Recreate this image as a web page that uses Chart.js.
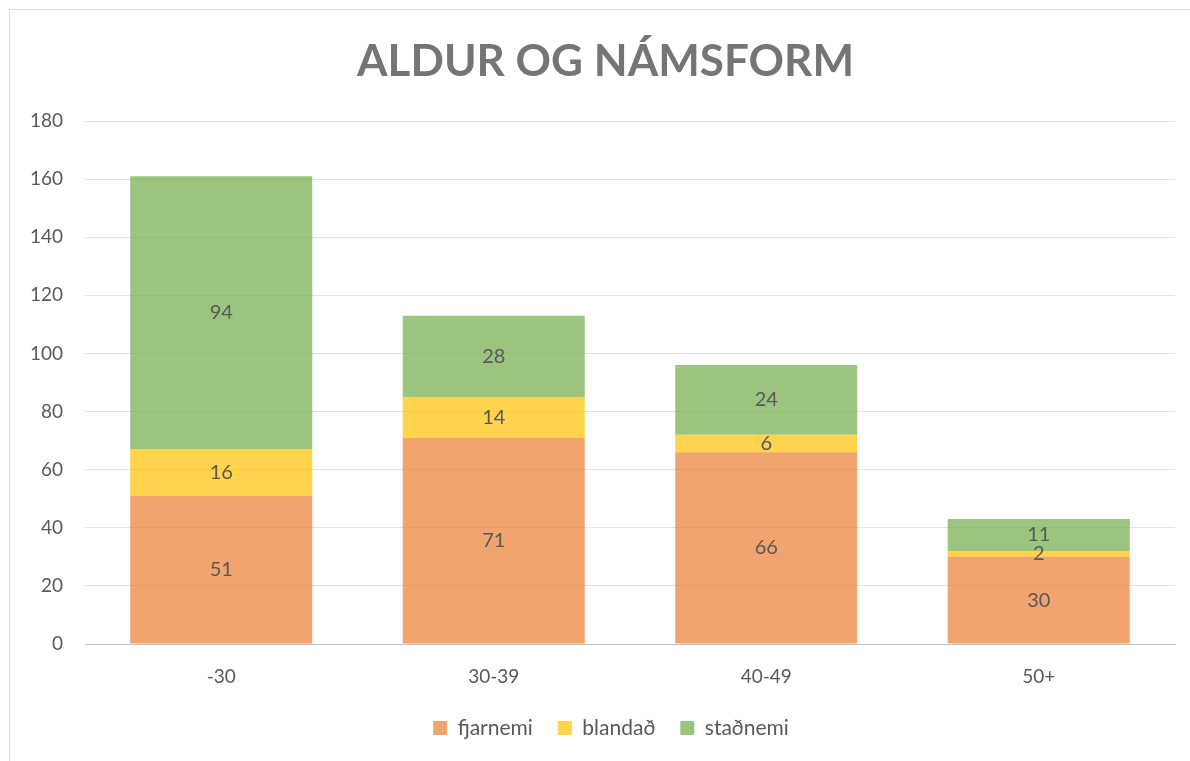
<!DOCTYPE html>
<html>
<head>
<meta charset="utf-8">
<script src="https://cdn.jsdelivr.net/npm/chart.js@4/dist/chart.umd.min.js"></script>
<style>
  html, body { margin: 0; padding: 0; background: #fff; }
  #frame { position: absolute; left: 9px; top: 9px; width: 1200px; height: 800px; border: 1px solid #d9d9d9; box-sizing: border-box; }
  #wrap { position: absolute; left: 0; top: 0; width: 1190px; height: 761px; }
</style>
</head>
<body>
<div id="frame"></div>
<div id="wrap"><canvas id="c" width="1190" height="761"></canvas></div>
<script>
const categories = ['-30', '30-39', '40-49', '50+'];
const fjarnemi = [51, 71, 66, 30];
const blandad = [16, 14, 6, 2];
const stadnemi = [94, 28, 24, 11];
const seriesNames = ['fjarnemi', 'blandað', 'staðnemi'];
const yTicks = [0, 20, 40, 60, 80, 100, 120, 140, 160, 180];
const titleText = 'ALDUR OG NÁMSFORM';

const FONT = 'Lato, "Open Sans", sans-serif';

const dataLabels = {
  id: 'dataLabels',
  afterDatasetsDraw(chart) {
    const ctx = chart.ctx;
    ctx.save();
    ctx.font = '20px ' + FONT;
    ctx.fillStyle = '#595959';
    ctx.textAlign = 'center';
    ctx.textBaseline = 'middle';
    chart.data.datasets.forEach((ds, i) => {
      const meta = chart.getDatasetMeta(i);
      meta.data.forEach((bar, j) => {
        const v = ds.data[j];
        const mid = (bar.y + bar.base) / 2;
        ctx.fillText(String(v), bar.x, mid);
      });
    });
    ctx.restore();
  }
};

const titlePlugin = {
  id: 'customTitle',
  afterLayout(chart) {
    if (chart.legend) {
      chart.legend.left = 47;
      chart.legend.right = 1175;
      chart.legend.width = 1175 - 47;
    }
  },
  afterDraw(chart) {
    const ctx = chart.ctx;
    ctx.save();
    ctx.font = 'bold 44px ' + FONT;
    ctx.fillStyle = '#757575';
    ctx.textAlign = 'center';
    ctx.textBaseline = 'alphabetic';
    ctx.fillText(titleText, 605.5, 76);
    ctx.restore();
  }
};

new Chart(document.getElementById('c'), {
  type: 'bar',
  data: {
    labels: categories,
    datasets: [
      { label: seriesNames[0], data: fjarnemi, backgroundColor: 'rgba(237,125,49,0.7)' },
      { label: seriesNames[1], data: blandad, backgroundColor: 'rgba(255,192,0,0.7)' },
      { label: seriesNames[2], data: stadnemi, backgroundColor: 'rgba(112,173,71,0.7)' }
    ]
  },
  options: {
    responsive: false,
    animation: false,
    devicePixelRatio: 1,
    layout: { padding: { left: 0, right: 15, top: 121, bottom: 12.5 } },
    datasets: { bar: { categoryPercentage: 1, barPercentage: 0.668 } },
    scales: {
      x: {
        stacked: true,
        afterFit(scale) { scale.height = 48.5; },
        grid: { display: false, drawTicks: false },
        border: { display: true, color: '#bfbfbf' },
        ticks: { color: '#595959', font: { family: FONT, size: 19 }, padding: 21 }
      },
      y: {
        stacked: true,
        min: 0, max: 180,
        afterBuildTicks(scale) { scale.ticks = yTicks.map(v => ({ value: v })); },
        afterFit(scale) { scale.width = 85; },
        grid: { color: '#e3e3e3', drawTicks: false },
        border: { display: false },
        ticks: { color: '#595959', font: { family: FONT, size: 19 }, padding: 22 }
      }
    },
    plugins: {
      title: { display: false },
      legend: {
        position: 'bottom',
        labels: {
          color: '#595959',
          font: { family: FONT, size: 21 },
          boxWidth: 14, boxHeight: 14,
          padding: 25
        }
      },
      tooltip: { enabled: false }
    }
  },
  plugins: [dataLabels, titlePlugin]
});
</script>
</body>
</html>
